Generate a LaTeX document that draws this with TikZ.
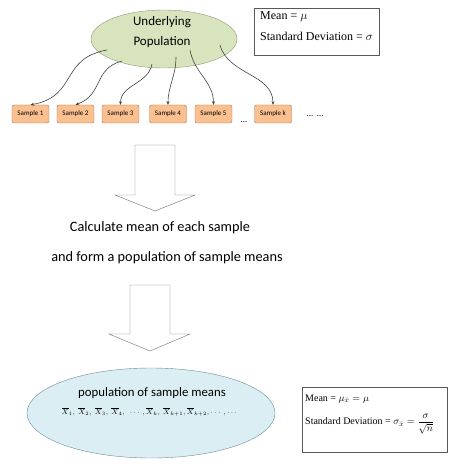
\documentclass[tikz,border=0pt]{standalone}
\usepackage{amsmath}
\usepackage{fontspec}
\setmainfont{Liberation Serif}
\newfontfamily\calibri{Carlito}
\usetikzlibrary{arrows.meta,positioning,shapes.geometric}

\definecolor{popfill}{HTML}{D7E4BD}
\definecolor{popedge}{HTML}{8C9C70}
\definecolor{samplefill}{HTML}{FAC090}
\definecolor{sampleedge}{HTML}{A0785A}
\definecolor{meanfill}{HTML}{DBEEF4}
\definecolor{meanedge}{HTML}{6F8C99}

\tikzset{
  sample/.style={draw=sampleedge, fill=samplefill, rounded corners=2pt,
    minimum width=37pt, minimum height=18pt, inner sep=0pt,
    font=\calibri\fontsize{7}{8}\selectfont},
  infobox/.style={draw=black!65, align=left, inner sep=0pt, anchor=north west},
  stat/.style={anchor=west, inner sep=0pt},
  flow/.style={-{Stealth[length=3.5pt,width=3pt]}, black!75, semithick},
  bigarrow/.style={draw=black!55, fill=white},
  caption/.style={font=\calibri\fontsize{14.3}{16}\selectfont}
}

\begin{document}
\begin{tikzpicture}[x=1pt,y=1pt]
  \useasboundingbox (0,0) rectangle (452,-476);

  % Underlying population
  \node[ellipse, draw=popedge, fill=popfill, minimum width=146pt, minimum height=58pt] (pop) at (164,-39) {};
  \node[font=\calibri\fontsize{13}{20}\selectfont, align=center] (poplabel) at (162,-32) {Underlying\\Population};

  % Parameters of the population
  \node[infobox, minimum width=125pt, minimum height=47pt] (popstats) at (254,-8) {};
  \node[stat, font=\fontsize{12}{14}\selectfont] (popmean) at (260,-17) {Mean = $\mu$};
  \node[stat, font=\fontsize{12}{14}\selectfont] (popsd) at (260,-36) {Standard Deviation = $\sigma$};

  % Samples
  \node[sample] (s1) at (30.5,-114) {Sample 1};
  \node[sample] (s2) at (75.5,-114) {Sample 2};
  \node[sample] (s3) at (120.5,-114) {Sample 3};
  \node[sample] (s4) at (168,-114) {Sample 4};
  \node[sample] (s5) at (213.5,-114) {Sample 5};
  \node[sample] (sk) at (273,-114) {Sample k};
  \node[font=\calibri\fontsize{9}{10}\selectfont] (dotsA) at (244,-122) {\dots};
  \node[font=\calibri\fontsize{9}{10}\selectfont] (dotsB) at (315,-116) {\dots\ \ \dots};

  % Drawing the samples
  \coordinate (o1) at (107,-50);
  \coordinate (o2) at (122,-61);
  \coordinate (o3) at (152,-64);
  \coordinate (o4) at (176,-57);
  \coordinate (o5) at (190,-50);
  \coordinate (o6) at (220,-45);
  \draw[flow] (o1) to[out=190,in=10,looseness=1.3] (s1.north);
  \draw[flow] (o2) to[out=195,in=20,looseness=1.2] (s2.north);
  \draw[flow] (o3) to[out=-100,in=90] (s3.north);
  \draw[flow] (o4) to[out=-90,in=90] (s4.north);
  \draw[flow] (o5) to[out=-80,in=90] (s5.north);
  \draw[flow] (o6) to[out=-75,in=90] (sk.north);

  % First block arrow
  \draw[bigarrow] (135,-145) -- (175,-145) -- (175,-195) -- (195,-195) -- (155,-211)
    -- (115,-195) -- (135,-195) -- cycle;

  % Step text
  \node[caption] (step1) at (160,-228) {Calculate mean of each sample};
  \node[caption] (step2) at (167,-258) {and form a population of sample means};

  % Second block arrow
  \draw[bigarrow] (130,-285) -- (170,-285) -- (170,-334) -- (190,-334) -- (150,-351)
    -- (109,-334) -- (130,-334) -- cycle;

  % Population of sample means
  \node[ellipse, draw=meanedge, fill=meanfill, minimum width=248pt, minimum height=90pt] (means) at (151,-413) {};
  \node[font=\calibri\fontsize{12.8}{14}\selectfont] (meanslabel) at (152,-393) {population of sample means};
  \node[font=\fontsize{7.3}{8}\selectfont] (meanslist) at (150,-412)
    {$\overline{X}_1,\ \overline{X}_2,\ \overline{X}_3,\ \overline{X}_4,\ \ \cdots,\overline{X}_k,\ \overline{X}_{k+1},\overline{X}_{k+2},\cdots,\cdots$};

  % Parameters of the sample means
  \node[infobox, minimum width=145pt, minimum height=65pt] (meanstats) at (302,-387) {};
  \node[stat, font=\fontsize{10}{12}\selectfont] (meanmean) at (305,-399) {Mean = $\mu_{\bar{x}} = \mu$};
  \node[stat, font=\fontsize{10}{12}\selectfont] (meansd) at (305,-424) {Standard Deviation = $\sigma_{\bar{x}} = \dfrac{\sigma}{\sqrt{n}}$};
\end{tikzpicture}
\end{document}
